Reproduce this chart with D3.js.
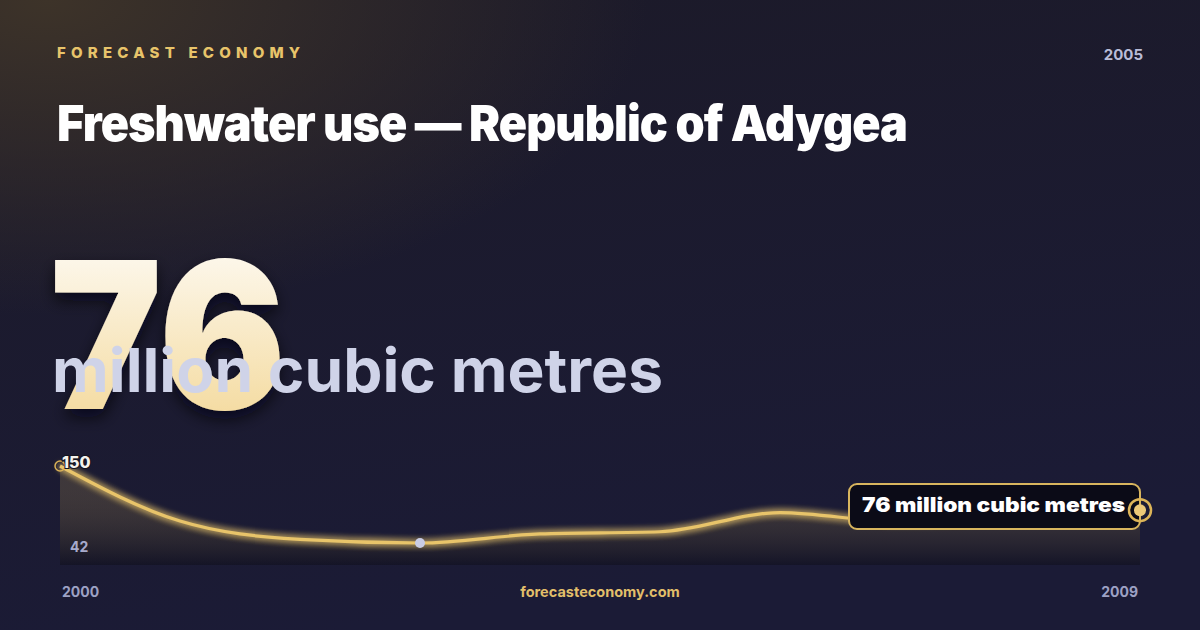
<!DOCTYPE html>
<html>
<head>
<meta charset="utf-8">
<script src="https://cdn.jsdelivr.net/npm/d3@7"></script>
<style>
  html, body { margin: 0; padding: 0; background: #17172b; }
  svg { display: block; font-family: Inter, "Noto Sans", sans-serif; }
</style>
</head>
<body>
<script>
// Size of the card
var width = 1200;
var height = 630;

// Data
var years = [2000, 2001, 2002, 2003, 2004, 2005, 2006, 2007, 2008, 2009];
var values = [150, 63, 45, 42, 50, 52, 73, 62, 66, 76];
var latestLabel = "76 million cubic metres";
var highlightIndex = 3;

var svg = d3.select("body")
  .append("svg")
  .attr("width", width)
  .attr("height", height);

var defs = svg.append("defs");

// background: navy with a warm glow top-left
var bg = defs.append("linearGradient")
  .attr("id", "bg")
  .attr("x1", 0).attr("y1", 0).attr("x2", 0.3).attr("y2", 1);
bg.append("stop").attr("offset", "0%").attr("stop-color", "#1c1a28");
bg.append("stop").attr("offset", "100%").attr("stop-color", "#1b1b36");

var glow = defs.append("radialGradient")
  .attr("id", "warm")
  .attr("cx", 0.04).attr("cy", 0).attr("r", 0.5);
glow.append("stop").attr("offset", "0%").attr("stop-color", "#3d3329").attr("stop-opacity", 1);
glow.append("stop").attr("offset", "100%").attr("stop-color", "#3d3329").attr("stop-opacity", 0);

var bigGrad = defs.append("linearGradient")
  .attr("id", "big")
  .attr("x1", 0).attr("y1", 0).attr("x2", 0).attr("y2", 1);
bigGrad.append("stop").attr("offset", "0%").attr("stop-color", "#ffffff");
bigGrad.append("stop").attr("offset", "100%").attr("stop-color", "#f2d48e");

var areaGrad = defs.append("linearGradient")
  .attr("id", "areaFill")
  .attr("x1", 0).attr("y1", 0).attr("x2", 0).attr("y2", 1);
areaGrad.append("stop").attr("offset", "0%").attr("stop-color", "#e8c46a").attr("stop-opacity", 0.16);
areaGrad.append("stop").attr("offset", "100%").attr("stop-color", "#0c0c16").attr("stop-opacity", 0.45);

var blur = defs.append("filter").attr("id", "glow")
  .attr("x", "-5%").attr("y", "-50%").attr("width", "110%").attr("height", "200%");
blur.append("feGaussianBlur").attr("stdDeviation", 3.5).attr("result", "b");
var merge = blur.append("feMerge");
merge.append("feMergeNode").attr("in", "b");
merge.append("feMergeNode").attr("in", "b");
merge.append("feMergeNode").attr("in", "SourceGraphic");

var shadow = defs.append("filter").attr("id", "shadow")
  .attr("x", "-20%").attr("y", "-20%").attr("width", "140%").attr("height", "150%");
shadow.append("feDropShadow")
  .attr("dx", 0).attr("dy", 8).attr("stdDeviation", 8)
  .attr("flood-color", "#05050c").attr("flood-opacity", 0.7);

svg.append("rect").attr("width", width).attr("height", height).attr("fill", "url(#bg)");
svg.append("rect").attr("width", width).attr("height", height).attr("fill", "url(#warm)");

// header
svg.append("text")
  .attr("x", 57).attr("y", 58)
  .attr("fill", "#e8c46a")
  .style("font-size", "15px").style("font-weight", 800)
  .style("letter-spacing", "5.2px")
  .text("FORECAST ECONOMY");

svg.append("text")
  .attr("x", 1143).attr("y", 60)
  .attr("text-anchor", "end")
  .attr("fill", "#b9bcd8")
  .style("font-size", "15px").style("font-weight", 700)
  .text("2005");

svg.append("text")
  .attr("x", 57).attr("y", 141)
  .attr("fill", "#ffffff")
  .style("font-size", "50px").style("font-weight", 900)
  .style("letter-spacing", "-1px")
  .attr("textLength", 850).attr("lengthAdjust", "spacingAndGlyphs")
  .text("Freshwater use \u2014 Republic of Adygea");

// big number with the unit over it
svg.append("text")
  .attr("x", 50).attr("y", 409)
  .attr("fill", "url(#big)")
  .attr("filter", "url(#shadow)")
  .style("font-size", "205px").style("font-weight", 900)
  .attr("textLength", 236).attr("lengthAdjust", "spacingAndGlyphs")
  .text(values[values.length - 1]);

svg.append("text")
  .attr("x", 52).attr("y", 392)
  .attr("fill", "#cfd3e8")
  .style("font-size", "61px").style("font-weight", 700)
  .attr("textLength", 611).attr("lengthAdjust", "spacingAndGlyphs")
  .text("million cubic metres");

// scales
var x = d3.scaleLinear()
  .domain(d3.extent(years))
  .range([60, 1140]);

var y = d3.scalePow().exponent(0.25)
  .domain([d3.min(values), d3.max(values)])
  .range([543, 466]);

var bottom = 565;

var area = d3.area()
  .x(function(d, i) { return x(years[i]); })
  .y0(bottom)
  .y1(function(d) { return y(d); })
  .curve(d3.curveMonotoneX);

var line = d3.line()
  .x(function(d, i) { return x(years[i]); })
  .y(function(d) { return y(d); })
  .curve(d3.curveMonotoneX);

svg.append("path")
  .datum(values)
  .attr("d", area)
  .attr("fill", "url(#areaFill)");

svg.append("path")
  .datum(values)
  .attr("d", line)
  .attr("fill", "none")
  .attr("stroke", "#e8c46a")
  .attr("stroke-width", 3.2)
  .attr("filter", "url(#glow)");

// first point ring
svg.append("circle")
  .attr("cx", x(years[0])).attr("cy", y(values[0]))
  .attr("r", 5)
  .attr("fill", "none")
  .attr("stroke", "#d9b157")
  .attr("stroke-width", 1.5);

// highlighted point
svg.append("circle")
  .attr("cx", x(years[highlightIndex])).attr("cy", y(values[highlightIndex]))
  .attr("r", 5)
  .attr("fill", "#c9cce4");

// max / min labels
svg.append("text")
  .attr("x", 62).attr("y", 468)
  .attr("fill", "#f4f2ee")
  .style("font-size", "16px").style("font-weight", 800)
  .style("paint-order", "stroke")
  .attr("stroke", "#15141f").attr("stroke-width", 2)
  .text(d3.max(values));

svg.append("text")
  .attr("x", 70).attr("y", 552)
  .attr("fill", "#a7abcc")
  .style("font-size", "14px").style("font-weight", 700)
  .text(d3.min(values));

// last value callout
var lx = x(years[years.length - 1]);
var ly = y(values[values.length - 1]);

svg.append("rect")
  .attr("x", 849).attr("y", 484)
  .attr("width", lx - 849).attr("height", 45)
  .attr("rx", 8)
  .attr("fill", "#0b0b17")
  .attr("stroke", "#d8b55e")
  .attr("stroke-width", 2);

svg.append("text")
  .attr("x", 862).attr("y", 512)
  .attr("fill", "#ffffff")
  .style("font-size", "20px").style("font-weight", 900)
  .attr("textLength", 263).attr("lengthAdjust", "spacingAndGlyphs")
  .text(latestLabel);

svg.append("circle")
  .attr("cx", lx).attr("cy", ly)
  .attr("r", 11)
  .attr("fill", "none")
  .attr("stroke", "#dcb458")
  .attr("stroke-width", 2.5);
svg.append("circle")
  .attr("cx", lx).attr("cy", ly)
  .attr("r", 6)
  .attr("fill", "#ecc978");

// x labels and footer
svg.append("text")
  .attr("x", 62).attr("y", 597)
  .attr("fill", "#9da1c4")
  .style("font-size", "14px").style("font-weight", 700)
  .text(years[0]);

svg.append("text")
  .attr("x", 1138).attr("y", 597)
  .attr("text-anchor", "end")
  .attr("fill", "#9da1c4")
  .style("font-size", "14px").style("font-weight", 700)
  .text(years[years.length - 1]);

svg.append("text")
  .attr("x", 600).attr("y", 597)
  .attr("text-anchor", "middle")
  .attr("fill", "#e2bf6a")
  .style("font-size", "14.5px").style("font-weight", 700)
  .text("forecasteconomy.com");
</script>
</body>
</html>
